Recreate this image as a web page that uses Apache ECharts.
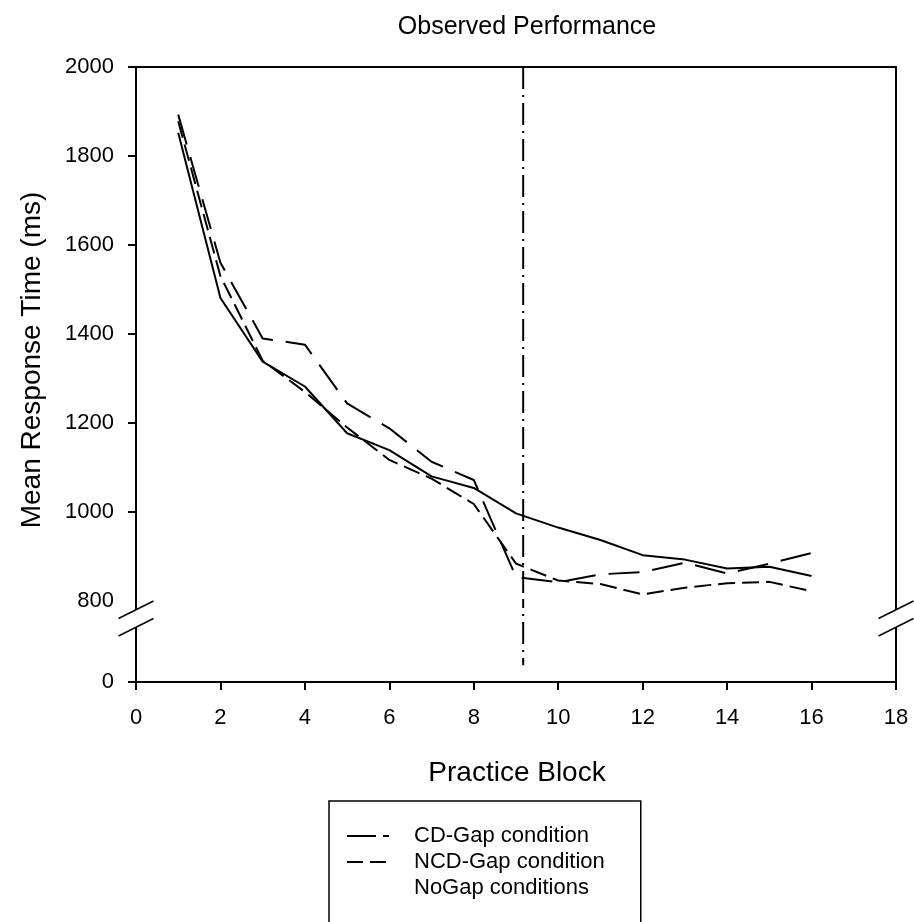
<!DOCTYPE html>
<html>
<head>
<meta charset="utf-8">
<title>Observed Performance</title>
<script src="https://cdn.jsdelivr.net/npm/echarts@6/dist/echarts.min.js"></script>
<style>
  html, body { margin: 0; padding: 0; background: #fff; }
  #chart { width: 914px; height: 922px; }
</style>
</head>
<body>
<div id="chart"></div>
<script>
// practice blocks on the x axis
const blocks = [1, 2, 3, 4, 5, 6, 7, 8, 9, 10, 11, 12, 13, 14, 15, 16];

// mean response times (ms)
const cdGap  = [1893, 1560, 1390, 1376, 1244, 1188, 1113, 1072, 854, 842, 860, 865, 886, 862, 884, 908];
const ncdGap = [1878, 1530, 1340, 1270, 1190, 1117, 1075, 1018, 884, 846, 838, 815, 830, 840, 843, 822];
const noGap  = [1852, 1481, 1338, 1282, 1177, 1139, 1080, 1054, 997, 965, 937, 903, 893, 873, 877, 856];

const seriesNames = ['CD-Gap condition', 'NCD-Gap condition', 'NoGap conditions'];

// the dash-dot marker where the gap happens
const gapBlock = 9.17;
const gapLineTop = 2000;    // upper panel value
const gapLineBottom = 165;  // lower panel value

// axis ranges / ticks
const upperMin = 800, upperMax = 2000, upperStep = 200;
const upperTickValues = [1000, 1200, 1400, 1600, 1800, 2000];
const lowerMin = 0, lowerMax = 800;
const lowerTickValues = [0];
const xMin = 0, xMax = 18, xStep = 2;

const FONT = 'Liberation Sans, Arial, sans-serif';

const toPairs = (ys) => blocks.map((b, i) => [b, ys[i]]);
const plain = (v) => String(v);   // no thousands separator

const chartDOM = document.getElementById('chart');
const chart = echarts.init(chartDOM, null, { renderer: 'canvas' });

const axisLine = { show: true, lineStyle: { color: '#000', width: 2 } };
const tickStyle = { color: '#000', width: 2 };
const labelStyle = { color: '#000', fontFamily: FONT, fontSize: 22, formatter: plain };
const noSplit = { show: false };

const option = {
  animation: false,
  backgroundColor: '#fff',
  grid: [
    // upper panel 800..2000
    { left: 136, right: 18, top: 67, height: 534 },
    // lower panel, just the zero
    { left: 136, right: 18, top: 601, height: 81 }
  ],
  xAxis: [
    {
      gridIndex: 0, type: 'value', min: xMin, max: xMax, position: 'top',
      axisLine: axisLine, axisTick: { show: false }, axisLabel: { show: false }, splitLine: noSplit
    },
    {
      gridIndex: 1, type: 'value', min: xMin, max: xMax, interval: xStep, position: 'bottom',
      axisLine: axisLine,
      axisTick: { show: true, length: 8, lineStyle: tickStyle },
      axisLabel: { ...labelStyle, margin: 25 },
      splitLine: noSplit
    }
  ],
  yAxis: [
    {
      gridIndex: 0, type: 'value', min: upperMin, max: upperMax, interval: upperStep, position: 'left',
      axisLine: axisLine,
      axisTick: { show: true, length: 8, customValues: upperTickValues, lineStyle: tickStyle },
      axisLabel: { ...labelStyle, margin: 22 },
      splitLine: noSplit
    },
    {
      gridIndex: 0, type: 'value', min: upperMin, max: upperMax, position: 'right',
      axisLine: axisLine, axisTick: { show: false }, axisLabel: { show: false }, splitLine: noSplit
    },
    {
      gridIndex: 1, type: 'value', min: lowerMin, max: lowerMax, position: 'left',
      axisLine: axisLine,
      axisTick: { show: true, length: 8, customValues: lowerTickValues, lineStyle: tickStyle },
      axisLabel: { ...labelStyle, margin: 22, customValues: lowerTickValues },
      splitLine: noSplit
    },
    {
      gridIndex: 1, type: 'value', min: lowerMin, max: lowerMax, position: 'right',
      axisLine: axisLine, axisTick: { show: false }, axisLabel: { show: false }, splitLine: noSplit
    }
  ],
  legend: {
    orient: 'vertical',
    left: 329,
    top: 801,
    height: 80,
    padding: [24, 36, 40, 17],
    itemWidth: 42,
    itemHeight: 14,
    itemGap: 4,
    borderColor: '#000',
    borderWidth: 1.5,
    // hide the round marker, keep only the line sample
    itemStyle: { opacity: 0 },
    textStyle: { color: '#000', fontFamily: FONT, fontSize: 22, lineHeight: 22, padding: [0, 0, 0, 20] },
    data: [
      { name: seriesNames[0], lineStyle: { type: [29, 7], width: 2 } },
      { name: seriesNames[1], lineStyle: { type: [16, 7], width: 2 } },
      // the original has no swatch for this one
      { name: seriesNames[2], lineStyle: { opacity: 0 } }
    ]
  },
  series: [
    {
      name: seriesNames[0], type: 'line', xAxisIndex: 0, yAxisIndex: 0,
      data: toPairs(cdGap), symbol: 'none', silent: true, color: '#000',
      lineStyle: { color: '#000', width: 2, type: [31, 13] }
    },
    {
      name: seriesNames[1], type: 'line', xAxisIndex: 0, yAxisIndex: 0,
      data: toPairs(ncdGap), symbol: 'none', silent: true, color: '#000',
      lineStyle: { color: '#000', width: 2, type: [17, 7] }
    },
    {
      name: seriesNames[2], type: 'line', xAxisIndex: 0, yAxisIndex: 0,
      data: toPairs(noGap), symbol: 'none', silent: true, color: '#000',
      lineStyle: { color: '#000', width: 2, type: 'solid' }
    },
    // dash-dot gap marker, split across the two panels
    {
      name: 'gap-upper', type: 'line', xAxisIndex: 0, yAxisIndex: 0,
      data: [[gapBlock, gapLineTop], [gapBlock, upperMin]], symbol: 'none', silent: true,
      lineStyle: { color: '#000', width: 2, type: [22, 6, 2, 6] }
    },
    {
      name: 'gap-lower', type: 'line', xAxisIndex: 1, yAxisIndex: 2,
      data: [[gapBlock, lowerMax], [gapBlock, gapLineBottom]], symbol: 'none', silent: true,
      lineStyle: { color: '#000', width: 2, type: [22, 6, 2, 6], dashOffset: 15 }
    }
  ]
};

chart.setOption(option);

// axis break marks (//) and the text, placed from the axes' pixel positions
const [xLeft, yBreak] = chart.convertToPixel({ seriesIndex: 0 }, [xMin, upperMin]);
const [xRight] = chart.convertToPixel({ seriesIndex: 0 }, [xMax, upperMax]);
const [, yZero] = chart.convertToPixel({ seriesIndex: 4 }, [xMin, lowerMin]);

const breakMark = (x) => {
  const h = 17.5;
  return [
    {
      type: 'polygon', z: 100, silent: true,
      shape: { points: [[x - h, yBreak + h], [x + h, yBreak], [x + h, yBreak + h], [x - h, yBreak + 2 * h]] },
      style: { fill: '#fff' }
    },
    {
      type: 'line', z: 101, silent: true,
      shape: { x1: x - h, y1: yBreak + h, x2: x + h, y2: yBreak },
      style: { stroke: '#000', lineWidth: 1.5 }
    },
    {
      type: 'line', z: 101, silent: true,
      shape: { x1: x - h, y1: yBreak + 2 * h, x2: x + h, y2: yBreak + h },
      style: { stroke: '#000', lineWidth: 1.5 }
    }
  ];
};

const midX = (xLeft + xRight) / 2;

chart.setOption({
  graphic: [
    ...breakMark(xLeft),
    ...breakMark(xRight),
    {
      type: 'text', silent: true, x: midX + 11, y: 27,
      style: { text: 'Observed Performance', fill: '#000', font: '25px ' + FONT, align: 'center', verticalAlign: 'middle' }
    },
    {
      type: 'text', silent: true, x: midX + 1, y: yZero + 91,
      style: { text: 'Practice Block', fill: '#000', font: '28px ' + FONT, align: 'center', verticalAlign: 'middle' }
    },
    {
      type: 'text', silent: true, x: 32, y: 360, rotation: Math.PI / 2,
      style: { text: 'Mean Response Time (ms)', fill: '#000', font: '28px ' + FONT, align: 'center', verticalAlign: 'middle' }
    }
  ]
});
</script>
</body>
</html>
